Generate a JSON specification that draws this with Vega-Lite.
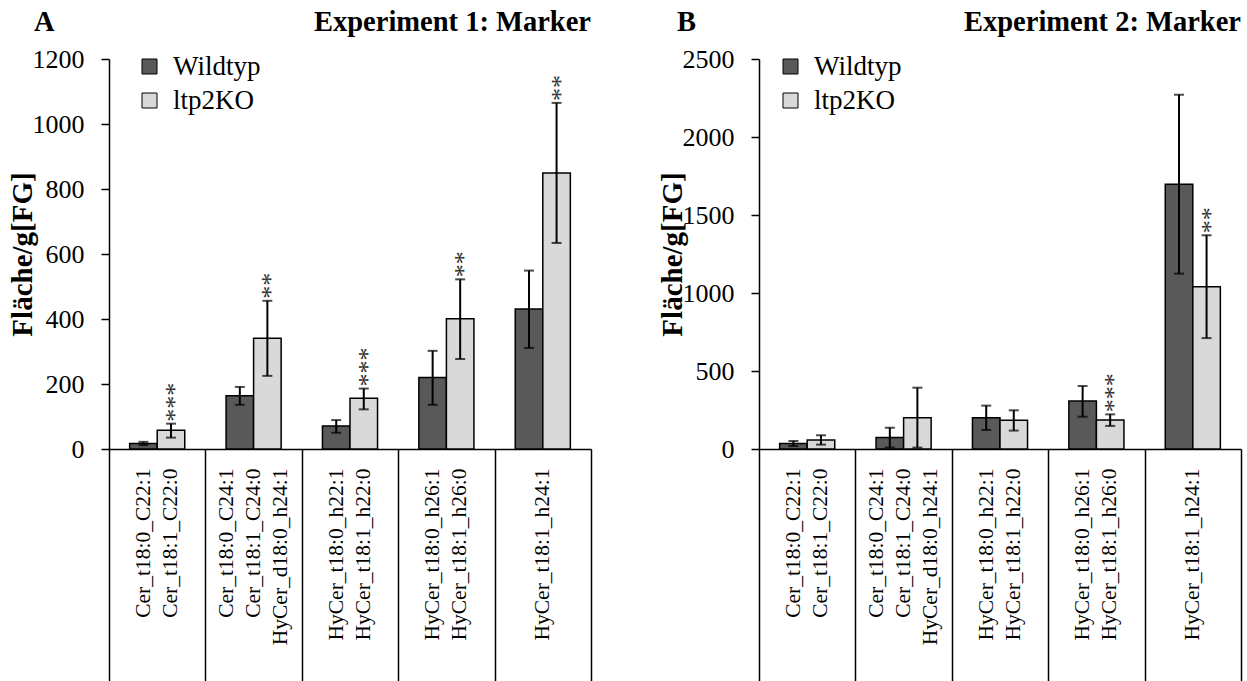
{
  "$schema": "https://vega.github.io/schema/vega-lite/v6.json",
  "padding": {"left": 8, "top": 8, "right": 4, "bottom": 0},
  "config": {
    "font": "Liberation Serif",
    "view": {"stroke": null},
    "axis": {"domainColor": "black", "tickColor": "black", "labelColor": "black", "titleColor": "black", "grid": false}
  },
  "datasets": {
    "a": [
      {"cat": "Cer_t18:0_C22:1|Cer_t18:1_C22:0", "geno": "Wildtyp", "val": 17, "lo": 12, "hi": 22, "sig": ""},
      {"cat": "Cer_t18:0_C22:1|Cer_t18:1_C22:0", "geno": "ltp2KO", "val": 58, "lo": 35, "hi": 78, "sig": "***"},
      {"cat": "Cer_t18:0_C24:1|Cer_t18:1_C24:0|HyCer_d18:0_h24:1", "geno": "Wildtyp", "val": 164, "lo": 136, "hi": 191, "sig": ""},
      {"cat": "Cer_t18:0_C24:1|Cer_t18:1_C24:0|HyCer_d18:0_h24:1", "geno": "ltp2KO", "val": 341, "lo": 225, "hi": 456, "sig": "**"},
      {"cat": "HyCer_t18:0_h22:1|HyCer_t18:1_h22:0", "geno": "Wildtyp", "val": 71, "lo": 50, "hi": 89, "sig": ""},
      {"cat": "HyCer_t18:0_h22:1|HyCer_t18:1_h22:0", "geno": "ltp2KO", "val": 156, "lo": 122, "hi": 186, "sig": "***"},
      {"cat": "HyCer_t18:0_h26:1|HyCer_t18:1_h26:0", "geno": "Wildtyp", "val": 220, "lo": 136, "hi": 302, "sig": ""},
      {"cat": "HyCer_t18:0_h26:1|HyCer_t18:1_h26:0", "geno": "ltp2KO", "val": 401, "lo": 277, "hi": 522, "sig": "**"},
      {"cat": "HyCer_t18:1_h24:1", "geno": "Wildtyp", "val": 431, "lo": 311, "hi": 549, "sig": ""},
      {"cat": "HyCer_t18:1_h24:1", "geno": "ltp2KO", "val": 849, "lo": 634, "hi": 1065, "sig": "**"}
    ],
    "b": [
      {"cat": "Cer_t18:0_C22:1|Cer_t18:1_C22:0", "geno": "Wildtyp", "val": 36, "lo": 19, "hi": 51, "sig": ""},
      {"cat": "Cer_t18:0_C22:1|Cer_t18:1_C22:0", "geno": "ltp2KO", "val": 58, "lo": 28, "hi": 88, "sig": ""},
      {"cat": "Cer_t18:0_C24:1|Cer_t18:1_C24:0|HyCer_d18:0_h24:1", "geno": "Wildtyp", "val": 73, "lo": 9, "hi": 137, "sig": ""},
      {"cat": "Cer_t18:0_C24:1|Cer_t18:1_C24:0|HyCer_d18:0_h24:1", "geno": "ltp2KO", "val": 201, "lo": 9, "hi": 393, "sig": ""},
      {"cat": "HyCer_t18:0_h22:1|HyCer_t18:1_h22:0", "geno": "Wildtyp", "val": 201, "lo": 122, "hi": 278, "sig": ""},
      {"cat": "HyCer_t18:0_h22:1|HyCer_t18:1_h22:0", "geno": "ltp2KO", "val": 184, "lo": 118, "hi": 248, "sig": ""},
      {"cat": "HyCer_t18:0_h26:1|HyCer_t18:1_h26:0", "geno": "Wildtyp", "val": 308, "lo": 207, "hi": 404, "sig": ""},
      {"cat": "HyCer_t18:0_h26:1|HyCer_t18:1_h26:0", "geno": "ltp2KO", "val": 186, "lo": 148, "hi": 222, "sig": "***"},
      {"cat": "HyCer_t18:1_h24:1", "geno": "Wildtyp", "val": 1697, "lo": 1124, "hi": 2271, "sig": ""},
      {"cat": "HyCer_t18:1_h24:1", "geno": "ltp2KO", "val": 1040, "lo": 711, "hi": 1370, "sig": "**"}
    ]
  },
  "spacing": 66,
  "resolve": {"scale": {"x": "independent", "y": "independent", "color": "independent", "xOffset": "independent"}, "legend": {"color": "independent"}, "axis": {"x": "independent", "y": "independent"}},
  "hconcat": [
    {
      "width": 482,
      "height": 390,
      "data": {"name": "a"},
      "encoding": {
        "x": {"field": "cat", "type": "nominal", "sort": null, "title": null,
          "scale": {"paddingInner": 0, "paddingOuter": 0},
          "axis": {"labelExpr": "split(datum.label, '|')", "labelAngle": 270, "labelAlign": "right", "labelBaseline": "middle", "labelFontSize": 21.5, "labelLineHeight": 27, "labelPadding": -214,
            "labelOffset": {"condition": [{"test": "length(split(datum.label, '|')) == 3", "value": -27}, {"test": "length(split(datum.label, '|')) == 2", "value": -13.5}], "value": 0},
            "tickSize": 233, "tickBand": "extent", "tickWidth": 1.5, "domainWidth": 1.5, "labelOverlap": false, "labelBound": false}},
        "xOffset": {"field": "geno", "type": "nominal", "sort": ["Wildtyp", "ltp2KO"], "scale": {"paddingInner": 0, "paddingOuter": 0.75}}
      },
      "layer": [
        {
          "mark": {"type": "bar", "stroke": "black", "strokeWidth": 1.5},
          "encoding": {
            "y": {"field": "val", "type": "quantitative", "scale": {"domain": [0, 1200], "nice": false},
              "axis": {"title": "Fläche/g[FG]", "titleFontSize": 29, "titleFontWeight": "bold", "titlePadding": -5, "values": [0, 200, 400, 600, 800, 1000, 1200], "format": "d", "tickSize": 8, "tickWidth": 1.5, "domainWidth": 1.5, "labelFontSize": 26, "labelPadding": 17}},
            "color": {"field": "geno", "type": "nominal", "sort": ["Wildtyp", "ltp2KO"],
              "scale": {"domain": ["Wildtyp", "ltp2KO"], "range": ["#595959", "#d9d9d9"]},
              "legend": {"orient": "none", "legendX": 27, "legendY": -6, "padding": 0, "title": null, "symbolType": "square", "symbolSize": 225, "symbolStrokeColor": "black", "symbolStrokeWidth": 1, "labelFontSize": 27, "labelOffset": 10, "rowPadding": 6, "labelColor": "black"}}
          }
        },
        {
          "mark": {"type": "rule", "strokeWidth": 2, "color": "black"},
          "encoding": {"y": {"field": "lo", "type": "quantitative"}, "y2": {"field": "hi"}}
        },
        {
          "mark": {"type": "tick", "thickness": 2, "size": 10, "color": "black", "orient": "horizontal"},
          "encoding": {"y": {"field": "lo", "type": "quantitative"}}
        },
        {
          "mark": {"type": "tick", "thickness": 2, "size": 10, "color": "black", "orient": "horizontal"},
          "encoding": {"y": {"field": "hi", "type": "quantitative"}}
        },
        {
          "mark": {"type": "text", "angle": 270, "align": "left", "baseline": "middle", "dx": 2, "dy": 4, "fontSize": 26, "color": "#333333"},
          "encoding": {"y": {"field": "hi", "type": "quantitative"}, "text": {"field": "sig"}}
        },
        {
          "data": {"values": [{"t": "Experiment 1: Marker", "c": "HyCer_t18:1_h24:1", "v": 1286}]},
          "mark": {"type": "text", "align": "right", "baseline": "alphabetic", "fontSize": 28.5, "fontWeight": "bold", "color": "black"},
          "encoding": {
            "x": {"field": "c", "type": "nominal", "sort": null, "bandPosition": 1},
            "xOffset": null,
            "y": {"field": "v", "type": "quantitative"},
            "text": {"field": "t"}
          }
        },
        {
          "data": {"values": [{"t": "A", "c": "Cer_t18:0_C22:1|Cer_t18:1_C22:0", "v": 1286}]},
          "mark": {"type": "text", "align": "left", "baseline": "alphabetic", "fontSize": 28.5, "fontWeight": "bold", "color": "black", "dx": -75},
          "encoding": {
            "x": {"field": "c", "type": "nominal", "sort": null, "bandPosition": 0},
            "xOffset": null,
            "y": {"field": "v", "type": "quantitative"},
            "text": {"field": "t"}
          }
        }
      ]
    },
    {
      "width": 482,
      "height": 390,
      "data": {"name": "b"},
      "encoding": {
        "x": {"field": "cat", "type": "nominal", "sort": null, "title": null,
          "scale": {"paddingInner": 0, "paddingOuter": 0},
          "axis": {"labelExpr": "split(datum.label, '|')", "labelAngle": 270, "labelAlign": "right", "labelBaseline": "middle", "labelFontSize": 21.5, "labelLineHeight": 27, "labelPadding": -214,
            "labelOffset": {"condition": [{"test": "length(split(datum.label, '|')) == 3", "value": -27}, {"test": "length(split(datum.label, '|')) == 2", "value": -13.5}], "value": 0},
            "tickSize": 233, "tickBand": "extent", "tickWidth": 1.5, "domainWidth": 1.5, "labelOverlap": false, "labelBound": false}},
        "xOffset": {"field": "geno", "type": "nominal", "sort": ["Wildtyp", "ltp2KO"], "scale": {"paddingInner": 0, "paddingOuter": 0.75}}
      },
      "layer": [
        {
          "mark": {"type": "bar", "stroke": "black", "strokeWidth": 1.5},
          "encoding": {
            "y": {"field": "val", "type": "quantitative", "scale": {"domain": [0, 2500], "nice": false},
              "axis": {"title": "Fläche/g[FG]", "titleFontSize": 29, "titleFontWeight": "bold", "titlePadding": -5, "values": [0, 500, 1000, 1500, 2000, 2500], "format": "d", "tickSize": 8, "tickWidth": 1.5, "domainWidth": 1.5, "labelFontSize": 26, "labelPadding": 17}},
            "color": {"field": "geno", "type": "nominal", "sort": ["Wildtyp", "ltp2KO"],
              "scale": {"domain": ["Wildtyp", "ltp2KO"], "range": ["#595959", "#d9d9d9"]},
              "legend": {"orient": "none", "legendX": 18, "legendY": -6, "padding": 0, "title": null, "symbolType": "square", "symbolSize": 225, "symbolStrokeColor": "black", "symbolStrokeWidth": 1, "labelFontSize": 27, "labelOffset": 10, "rowPadding": 6, "labelColor": "black"}}
          }
        },
        {
          "mark": {"type": "rule", "strokeWidth": 2, "color": "black"},
          "encoding": {"y": {"field": "lo", "type": "quantitative"}, "y2": {"field": "hi"}}
        },
        {
          "mark": {"type": "tick", "thickness": 2, "size": 10, "color": "black", "orient": "horizontal"},
          "encoding": {"y": {"field": "lo", "type": "quantitative"}}
        },
        {
          "mark": {"type": "tick", "thickness": 2, "size": 10, "color": "black", "orient": "horizontal"},
          "encoding": {"y": {"field": "hi", "type": "quantitative"}}
        },
        {
          "mark": {"type": "text", "angle": 270, "align": "left", "baseline": "middle", "dx": 2, "dy": 4, "fontSize": 26, "color": "#333333"},
          "encoding": {"y": {"field": "hi", "type": "quantitative"}, "text": {"field": "sig"}}
        },
        {
          "data": {"values": [{"t": "Experiment 2: Marker", "c": "HyCer_t18:1_h24:1", "v": 2679}]},
          "mark": {"type": "text", "align": "right", "baseline": "alphabetic", "fontSize": 28.5, "fontWeight": "bold", "color": "black"},
          "encoding": {
            "x": {"field": "c", "type": "nominal", "sort": null, "bandPosition": 1},
            "xOffset": null,
            "y": {"field": "v", "type": "quantitative"},
            "text": {"field": "t"}
          }
        },
        {
          "data": {"values": [{"t": "B", "c": "Cer_t18:0_C22:1|Cer_t18:1_C22:0", "v": 2679}]},
          "mark": {"type": "text", "align": "left", "baseline": "alphabetic", "fontSize": 28.5, "fontWeight": "bold", "color": "black", "dx": -82},
          "encoding": {
            "x": {"field": "c", "type": "nominal", "sort": null, "bandPosition": 0},
            "xOffset": null,
            "y": {"field": "v", "type": "quantitative"},
            "text": {"field": "t"}
          }
        }
      ]
    }
  ]
}
